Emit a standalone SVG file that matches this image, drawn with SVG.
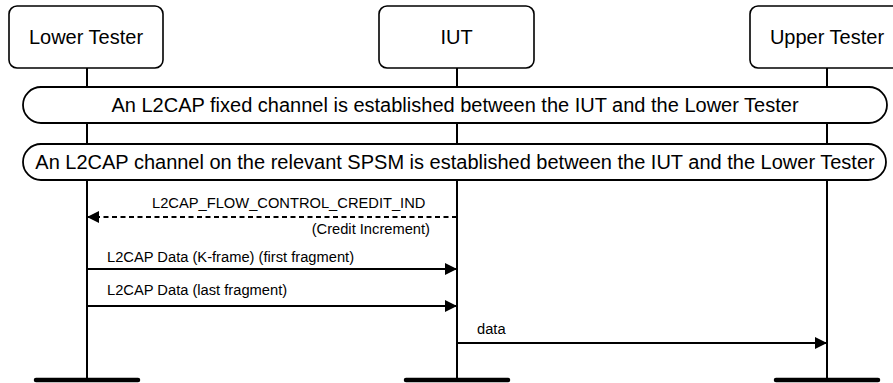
<svg xmlns="http://www.w3.org/2000/svg" width="893" height="383" viewBox="0 0 893 383">
<style>
.box{fill:#fff;stroke:#000;stroke-width:1.6}
.cond{fill:#fff;stroke:#000;stroke-width:1.8}
.life{stroke:#000;stroke-width:2;fill:none}
.bar{stroke:#000;stroke-width:4.5;stroke-linecap:round}
.t{font-family:"Liberation Sans",Arial,sans-serif;fill:#000}
.title{font-size:20px;text-anchor:middle}
.ct{font-size:20px;text-anchor:middle}
.lbl{font-size:14.7px}
.msg{stroke:#000;stroke-width:1.8;fill:none}
.dash{stroke-dasharray:5,3.5}
</style>
<defs>
<marker id="ah" markerUnits="userSpaceOnUse" markerWidth="13" markerHeight="12" refX="12" refY="6" orient="auto" viewBox="0 0 13 12">
<path d="M0,0 L12,6 L0,12 z" fill="#000"/>
</marker>
</defs>
<g id="lifelines">
<line class="life" x1="87" y1="68" x2="87" y2="380"/>
<line class="life" x1="457" y1="68" x2="457" y2="380"/>
<line class="life" x1="827" y1="68" x2="827" y2="380"/>
<line class="bar" x1="36" y1="380" x2="138" y2="380"/>
<line class="bar" x1="406" y1="380" x2="508" y2="380"/>
<line class="bar" x1="776" y1="380" x2="878" y2="380"/>
</g>
<g id="node-lower">
<rect class="box" x="9" y="6" width="154" height="62" rx="8"/>
<text class="t title" x="86" y="44">Lower Tester</text>
</g>
<g id="node-iut">
<rect class="box" x="379" y="6" width="155" height="62" rx="8"/>
<text class="t title" x="456.5" y="44">IUT</text>
</g>
<g id="node-upper">
<rect class="box" x="750" y="6" width="155" height="62" rx="8"/>
<text class="t title" x="827" y="44">Upper Tester</text>
</g>
<g id="cond-1">
<rect class="cond" x="23" y="87" width="864" height="36" rx="18"/>
<text class="t ct" x="455" y="112">An L2CAP fixed channel is established between the IUT and the Lower Tester</text>
</g>
<g id="cond-2">
<rect class="cond" x="23" y="144" width="863" height="36" rx="18"/>
<text class="t ct" x="455" y="169">An L2CAP channel on the relevant SPSM is established between the IUT and the Lower Tester</text>
</g>
<g id="connectors">
<line class="msg dash" x1="457" y1="217" x2="87" y2="217" marker-end="url(#ah)"/>
<line class="msg" x1="87" y1="269" x2="457" y2="269" marker-end="url(#ah)"/>
<line class="msg" x1="87" y1="306" x2="457" y2="306" marker-end="url(#ah)"/>
<line class="msg" x1="457" y1="343" x2="827" y2="343" marker-end="url(#ah)"/>
</g>
<g id="labels">
<text class="t lbl" x="152" y="208">L2CAP_FLOW_CONTROL_CREDIT_IND</text>
<text class="t lbl" x="430" y="234" text-anchor="end">(Credit Increment)</text>
<text class="t lbl" x="107" y="262">L2CAP Data (K-frame) (first fragment)</text>
<text class="t lbl" x="107" y="295">L2CAP Data (last fragment)</text>
<text class="t lbl" x="477" y="334">data</text>
</g>
</svg>
